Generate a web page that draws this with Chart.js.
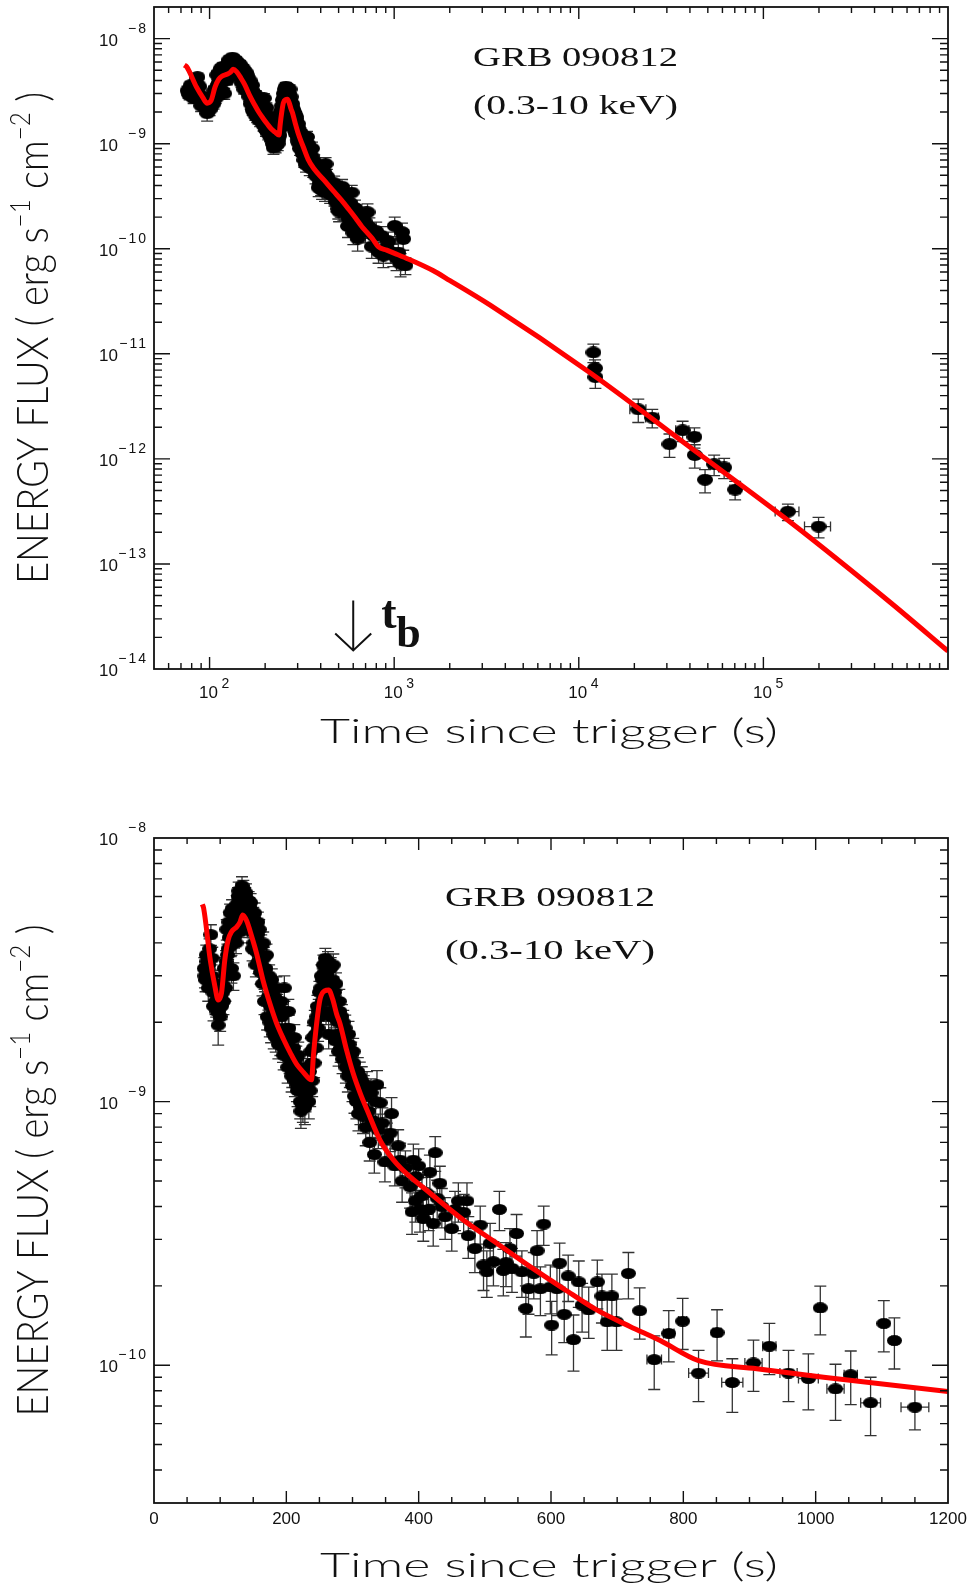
<!DOCTYPE html>
<html>
<head>
<meta charset="utf-8">
<script src="https://cdn.jsdelivr.net/npm/chart.js@4.4.0/dist/chart.umd.min.js"></script>
<style>
    html, body { margin: 0; padding: 0; background: #fff; }
    body { width: 977px; height: 1589px; position: relative; overflow: hidden; }
    .panel { position: absolute; left: 0; width: 977px; }
    #top-panel { top: 0; height: 790px; }
    #bottom-panel { top: 790px; height: 799px; }
</style>
</head>
<body>
<div class="panel" id="top-panel"><canvas id="top-chart"></canvas></div>
<div class="panel" id="bottom-panel"><canvas id="bottom-chart"></canvas></div>
<script>
// WT mode, dense part: time (s), flux (erg s^-1 cm^-2), fractional error
const wtTime = [
    76, 77, 78, 79, 80, 81, 82, 83, 84, 85, 86, 87, 88, 89, 90,
    91, 92, 93, 94, 95, 96, 97, 98, 99, 100, 101, 102, 103, 104, 105,
    106, 107, 108, 109, 110, 111, 112, 113, 114, 115, 116, 117, 118,
    119, 120, 121, 122, 123, 124, 125, 126, 127, 128, 129, 130, 131,
    132, 133, 134, 135, 136, 137, 138, 139, 140, 141, 142, 143, 144, 145,
    146, 147, 148, 149, 150, 151, 152, 153, 154, 155,
    156, 157, 158, 159, 160, 161, 162, 163, 164, 165,
    166, 167, 168, 169, 170, 171, 172, 173, 174, 175,
    176, 177, 178, 179, 180, 181, 182, 183, 184, 185,
    186, 187, 188, 189, 190, 191, 192, 193, 194, 195,
    196, 197, 198, 199, 200, 201, 202, 203, 204, 205,
    206, 207, 208, 209, 210, 211, 212, 213, 214, 215,
    216, 217, 218, 219, 220, 221, 222, 223, 224, 225,
    226, 227, 228, 229, 230, 231, 232, 233, 234,
    235, 236, 237, 238, 239, 240, 241, 242, 243, 244,
    245, 246, 247, 248, 249, 250, 251, 252, 253, 254,
    255, 256, 257, 258, 259, 260, 261, 262, 263, 264,
    265, 266, 267, 268, 269, 270, 271,
    272, 273, 274, 275, 276, 277, 278, 279, 280, 281,
    282, 283, 284, 285, 286, 287, 288, 289, 290, 291,
    292, 293, 294, 295, 296, 297, 298, 299, 300, 301,
    302, 303, 304, 305, 306, 307, 308, 309, 310, 311,
    312, 313, 314, 315, 316, 317, 318, 319, 320,
    322, 324, 326, 328, 330, 333, 335, 337, 339,
    342, 345, 349, 352, 357, 359, 364, 369, 372, 375, 380, 387, 390, 392, 395,
    396, 400, 402, 405, 407, 412, 415, 417, 422, 425, 428, 432, 435, 440, 450,
    455, 460, 468, 473, 475, 485, 493, 498, 503, 508, 513, 522, 528, 532, 538,
    541, 548, 556, 562, 566, 574, 579, 584, 589, 599, 601, 609, 613, 620, 626,
    634, 642, 647, 657, 670, 677, 685, 692, 699, 717, 734,
];
const wtFlux = [
    3.2e-9, 3.0e-9, 2.9e-9, 3.6e-9, 3.4e-9, 3.1e-9, 2.7e-9, 3.3e-9, 3.8e-9, 2.9e-9, 4.3e-9, 3.0e-9, 3.5e-9, 2.6e-9, 2.3e-9,
    2.8e-9, 2.6e-9, 2.4e-9, 2.35e-9, 2.2e-9, 2.6e-9, 1.95e-9, 2.2e-9, 2.3e-9, 2.1e-9, 2.5e-9, 2.3e-9, 2.8e-9, 2.6e-9, 2.4e-9,
    3.2e-9, 3.0e-9, 2.7e-9, 3.4e-9, 4.5e-9, 3.6e-9, 3.8e-9, 4.8e-9, 4.2e-9, 5.2e-9, 3.9e-9, 3.2e-9, 5.4e-9,
    4.6e-9, 3.0e-9, 4.2e-9, 5.0e-9, 4.7e-9, 4.0e-9, 5.6e-9, 4.9e-9, 6.0e-9, 6.3e-9, 5.3e-9, 4.4e-9, 5.6e-9,
    6.2e-9, 6.6e-9, 5.8e-9, 6.4e-9, 5.5e-9, 5.2e-9, 6.0e-9, 6.2e-9, 5.5e-9, 4.6e-9, 5.2e-9, 5.8e-9, 5.5e-9, 4.9e-9,
    5.7e-9, 5.3e-9, 4.4e-9, 3.8e-9, 5.0e-9, 4.0e-9, 5.2e-9, 4.7e-9, 3.3e-9, 3.7e-9,
    4.3e-9, 4.8e-9, 3.4e-9, 4.5e-9, 3.6e-9, 3.1e-9, 3.9e-9, 3.3e-9, 2.8e-9, 4.0e-9,
    3.5e-9, 2.4e-9, 2.9e-9, 3.2e-9, 3.6e-9, 2.1e-9, 2.8e-9, 2.5e-9, 3.0e-9, 2.0e-9,
    2.3e-9, 1.9e-9, 2.9e-9, 2.6e-9, 2.3e-9, 1.8e-9, 2.5e-9, 2.2e-9, 1.75e-9, 2.7e-9,
    2.3e-9, 1.9e-9, 1.65e-9, 2.4e-9, 2.2e-9, 1.7e-9, 2.4e-9, 2.1e-9, 1.85e-9, 1.6e-9,
    1.5e-9, 2.7e-9, 2.2e-9, 1.9e-9, 1.75e-9, 1.5e-9, 1.35e-9, 2.2e-9, 1.9e-9, 1.45e-9,
    1.6e-9, 1.75e-9, 1.25e-9, 1.3e-9, 1.5e-9, 1.6e-9, 1.75e-9, 1.2e-9, 1.3e-9, 1.45e-9,
    1.15e-9, 1.1e-9, 1.5e-9, 1.35e-9, 1.15e-9, 1.0e-9, 0.92e-9, 1.25e-9, 1.1e-9, 0.97e-9,
    1.3e-9, 1.15e-9, 0.95e-9, 1.05e-9, 1.15e-9, 1.25e-9, 1.35e-9, 1.1e-9, 1.0e-9,
    1.3e-9, 1.1e-9, 1.55e-9, 1.4e-9, 1.2e-9, 1.75e-9, 1.6e-9, 1.4e-9, 2.0e-9, 1.8e-9,
    1.6e-9, 2.1e-9, 2.3e-9, 1.9e-9, 2.2e-9, 2.6e-9, 2.1e-9, 2.7e-9, 3.0e-9, 2.4e-9,
    2.9e-9, 3.3e-9, 2.7e-9, 3.1e-9, 3.5e-9, 2.2e-9, 3.1e-9, 2.6e-9, 3.4e-9, 1.8e-9,
    2.8e-9, 2.4e-9, 3.2e-9, 2.1e-9, 2.5e-9, 2.9e-9, 3.3e-9,
    2.2e-9, 2.6e-9, 1.7e-9, 2.8e-9, 2.4e-9, 1.8e-9, 2.0e-9, 1.55e-9, 2.4e-9, 2.2e-9,
    1.6e-9, 1.8e-9, 2.1e-9, 1.45e-9, 2.0e-9, 1.55e-9, 1.7e-9, 1.9e-9, 1.35e-9, 1.5e-9,
    1.6e-9, 1.25e-9, 1.8e-9, 1.65e-9, 1.3e-9, 1.4e-9, 1.5e-9, 1.25e-9, 1.15e-9, 1.55e-9,
    1.4e-9, 1.05e-9, 1.2e-9, 1.3e-9, 1.0e-9, 1.15e-9, 1.3e-9, 0.9e-9, 1.1e-9, 1.25e-9,
    0.95e-9, 1.05e-9, 1.2e-9, 0.95e-9, 0.88e-9, 1.1e-9, 1.05e-9, 0.9e-9, 0.8e-9,
    1.15e-9, 0.92e-9, 0.7e-9, 1.08e-9, 0.85e-9, 0.63e-9, 1.0e-9, 1.16e-9, 0.78e-9,
    9.9e-10, 8.3e-10, 5.9e-10, 7.2e-10, 7.6e-10, 9.0e-10, 5.7e-10, 6.8e-10, 6.0e-10, 5.0e-10, 5.6e-10, 4.75e-10, 3.82e-10, 6.0e-10, 4.2e-10,
    5.2e-10, 5.7e-10, 3.9e-10, 4.4e-10, 3.6e-10, 4.5e-10, 3.9e-10, 5.4e-10, 3.45e-10, 6.4e-10, 4.3e-10, 4.9e-10, 4.0e-10, 3.66e-10, 3.3e-10,
    3.9e-10, 4.2e-10, 3.8e-10, 4.2e-10, 3.1e-10, 2.77e-10, 3.4e-10, 2.4e-10, 2.26e-10, 2.9e-10, 2.47e-10, 3.9e-10, 2.29e-10, 2.45e-10, 2.77e-10,
    2.33e-10, 3.16e-10, 2.26e-10, 1.64e-10, 1.95e-10, 2.23e-10, 2.72e-10, 1.95e-10, 3.43e-10, 1.98e-10, 1.42e-10, 1.95e-10, 2.44e-10, 1.56e-10, 2.18e-10,
    1.25e-10, 2.07e-10, 1.69e-10, 1.62e-10, 2.07e-10, 1.83e-10, 1.46e-10, 1.83e-10, 1.46e-10, 2.23e-10, 1.61e-10,
];
const wtErr = [
    0.10, 0.10, 0.10, 0.09, 0.09, 0.10, 0.11, 0.10, 0.09, 0.10, 0.09, 0.10, 0.10, 0.11, 0.12,
    0.10, 0.11, 0.11, 0.11, 0.12, 0.11, 0.16, 0.12, 0.11, 0.12, 0.10, 0.11, 0.10, 0.11, 0.11,
    0.10, 0.10, 0.11, 0.10, 0.09, 0.10, 0.09, 0.09, 0.09, 0.08, 0.09, 0.12, 0.08,
    0.09, 0.12, 0.09, 0.08, 0.09, 0.09, 0.08, 0.09, 0.08, 0.08, 0.08, 0.09, 0.08,
    0.08, 0.08, 0.08, 0.08, 0.08, 0.08, 0.08, 0.08, 0.08, 0.09, 0.08, 0.08, 0.08, 0.09,
    0.08, 0.08, 0.09, 0.10, 0.09, 0.09, 0.09, 0.09, 0.10, 0.10,
    0.09, 0.09, 0.10, 0.09, 0.10, 0.10, 0.10, 0.10, 0.10, 0.10,
    0.10, 0.11, 0.10, 0.10, 0.10, 0.11, 0.10, 0.11, 0.10, 0.12,
    0.11, 0.12, 0.10, 0.11, 0.11, 0.12, 0.11, 0.11, 0.12, 0.10,
    0.11, 0.12, 0.12, 0.11, 0.11, 0.12, 0.11, 0.11, 0.12, 0.12,
    0.12, 0.11, 0.11, 0.12, 0.12, 0.12, 0.13, 0.11, 0.12, 0.12,
    0.12, 0.12, 0.13, 0.13, 0.12, 0.12, 0.12, 0.13, 0.13, 0.12,
    0.13, 0.13, 0.12, 0.12, 0.13, 0.14, 0.14, 0.12, 0.13, 0.14,
    0.12, 0.13, 0.14, 0.13, 0.13, 0.12, 0.12, 0.13, 0.14,
    0.12, 0.13, 0.12, 0.12, 0.13, 0.11, 0.12, 0.12, 0.11, 0.11,
    0.12, 0.11, 0.10, 0.11, 0.11, 0.10, 0.11, 0.10, 0.10, 0.10,
    0.10, 0.09, 0.10, 0.10, 0.09, 0.11, 0.10, 0.10, 0.09, 0.12,
    0.10, 0.10, 0.10, 0.11, 0.10, 0.10, 0.10,
    0.11, 0.10, 0.12, 0.10, 0.10, 0.12, 0.11, 0.12, 0.11, 0.11,
    0.12, 0.11, 0.11, 0.12, 0.11, 0.12, 0.12, 0.12, 0.13, 0.12,
    0.12, 0.13, 0.12, 0.12, 0.13, 0.12, 0.12, 0.13, 0.13, 0.12,
    0.12, 0.14, 0.13, 0.13, 0.14, 0.13, 0.13, 0.14, 0.13, 0.13,
    0.14, 0.14, 0.13, 0.14, 0.14, 0.14, 0.14, 0.14, 0.15,
    0.13, 0.14, 0.15, 0.13, 0.14, 0.15, 0.14, 0.13, 0.15,
    0.14, 0.14, 0.16, 0.15, 0.15, 0.15, 0.16, 0.15, 0.16, 0.17, 0.16, 0.17, 0.18, 0.15, 0.17,
    0.16, 0.16, 0.18, 0.17, 0.18, 0.17, 0.17, 0.16, 0.18, 0.15, 0.17, 0.16, 0.17, 0.18, 0.18,
    0.17, 0.17, 0.17, 0.17, 0.18, 0.19, 0.18, 0.20, 0.20, 0.19, 0.19, 0.17, 0.20, 0.19, 0.19,
    0.19, 0.18, 0.20, 0.22, 0.20, 0.20, 0.19, 0.21, 0.17, 0.21, 0.23, 0.21, 0.19, 0.22, 0.20,
    0.24, 0.20, 0.21, 0.22, 0.21, 0.21, 0.22, 0.21, 0.22, 0.20, 0.22,
];

// WT mode, last bins with visible time bins
const wtLateTime = [756, 778, 799, 823, 851, 874, 906, 930, 959, 989, 1007, 1030, 1053, 1083, 1103, 1119, 1150];
const wtLateFlux = [1.05e-10, 1.32e-10, 1.47e-10, 9.33e-11, 1.33e-10, 8.6e-11, 1.02e-10, 1.18e-10, 9.33e-11, 8.9e-11, 1.65e-10, 8.13e-11, 9.2e-11, 7.2e-11, 1.44e-10, 1.24e-10, 6.93e-11];
const wtLateErr = [0.23, 0.22, 0.22, 0.22, 0.22, 0.23, 0.22, 0.22, 0.22, 0.24, 0.21, 0.24, 0.23, 0.25, 0.22, 0.22, 0.18];
const wtLateTimeErr = [11, 8, 6, 15, 6, 16, 13, 10, 13, 15, 4, 13, 10, 15, 4, 4, 21];

// PC mode
const pcTime = [12000, 12250, 12300, 21000, 25000, 31000, 36500, 42300, 42500, 48300, 54100, 61300, 70300, 135800, 199000];
const pcFlux = [1.03e-11, 7.3e-12, 6.0e-12, 2.96e-12, 2.47e-12, 1.38e-12, 1.87e-12, 1.62e-12, 1.09e-12, 6.33e-13, 8.9e-13, 8.3e-13, 5.1e-13, 3.15e-13, 2.27e-13];
const pcErr = [0.20, 0.20, 0.22, 0.25, 0.20, 0.25, 0.22, 0.22, 0.25, 0.25, 0.22, 0.22, 0.20, 0.18, 0.22];
const pcTimeErr = [300, 300, 300, 2100, 2000, 1500, 3000, 2500, 2000, 1500, 3500, 4000, 4500, 20000, 32000];

// model curve
const fitTime = [
    73, 75, 85, 92, 97, 102, 107, 112, 117, 125, 130, 134, 140, 148, 155,
    165, 175, 185, 196, 206, 216, 226, 238, 241, 246, 251, 258, 264, 270, 276,
    281, 291, 301, 312, 322, 342, 367, 417, 468, 518, 569, 619, 669, 720, 765,
    823, 911, 1012, 1200, 1622, 1995, 3296, 11510, 40090, 139600, 487500, 1000000,
];
const fitFlux = [
    5.6e-9, 5.42e-9, 3.45e-9, 2.74e-9, 2.43e-9, 2.58e-9, 3.45e-9, 4.1e-9, 4.4e-9, 4.6e-9, 4.8e-9, 5.1e-9, 4.85e-9, 4.2e-9, 3.65e-9,
    2.87e-9, 2.36e-9, 1.99e-9, 1.72e-9, 1.53e-9, 1.38e-9, 1.29e-9, 1.21e-9, 1.5e-9, 2.0e-9, 2.45e-9, 2.63e-9, 2.65e-9, 2.45e-9, 2.15e-9,
    1.98e-9, 1.57e-9, 1.28e-9, 1.07e-9, 9.3e-10, 7.1e-10, 5.8e-10, 4.5e-10, 3.55e-10, 2.9e-10, 2.36e-10, 1.95e-10, 1.62e-10, 1.4e-10, 1.24e-10,
    1.04e-10, 9.7e-11, 9.0e-11, 7.94e-11, 6.2e-11, 5.0e-11, 2.92e-11, 6.6e-12, 1.29e-12, 2.51e-13, 4.3e-14, 1.48e-14,
];

// axes
const topXTickExponents = [2, 3, 4, 5];
const topYTickExponents = [-8, -9, -10, -11, -12, -13, -14];
const bottomXTickValues = [0, 200, 400, 600, 800, 1000, 1200];
const bottomYTickExponents = [-8, -9, -10];

const grbName = "GRB 090812";
const energyBand = "(0.3-10 keV)";
const breakTime = 600;
const breakArrowFlux = 1.5e-14;

const INK = "#111";
const LABEL_FONT = '17px "Liberation Sans", Arial, sans-serif';
const SUP_FONT = '14px "Liberation Sans", Arial, sans-serif';
const TITLE_FAMILY = 'Lato, "DejaVu Sans", sans-serif';

function makeDot(w, h) {
    const c = document.createElement("canvas");
    c.width = w;
    c.height = h;
    const g = c.getContext("2d");
    g.fillStyle = "#000";
    g.beginPath();
    g.ellipse(w / 2, h / 2, w / 2, h / 2, 0, 0, Math.PI * 2);
    g.fill();
    return c;
}

const topDot = makeDot(16, 12);
const bottomDot = makeDot(15, 11);

function toPoints(times, fluxes) {
    return times.map((t, i) => ({ x: t, y: fluxes[i] }));
}

function fitDataset() {
    return {
        label: "model",
        data: toPoints(fitTime, fitFlux),
        showLine: true,
        borderColor: "#ff0000",
        borderWidth: 5,
        borderJoinStyle: "round",
        pointRadius: 0,
        cubicInterpolationMode: "monotone",
        clip: 0,
    };
}

function pointDataset(label, times, fluxes, fluxErr, timeErr, dot) {
    return {
        label,
        data: toPoints(times, fluxes),
        showLine: false,
        pointStyle: dot,
        pointRadius: 6,
        errors: { y: fluxErr, x: timeErr },
    };
}

const errorBarPlugin = {
    id: "errorBars",
    beforeDatasetsDraw(chart) {
        const { ctx, chartArea: a, scales: { x, y } } = chart;
        ctx.save();
        ctx.beginPath();
        ctx.rect(a.left, a.top, a.right - a.left, a.bottom - a.top);
        ctx.clip();
        ctx.strokeStyle = "#333";
        ctx.lineWidth = 1.3;
        ctx.beginPath();
        chart.data.datasets.forEach((ds) => {
            if (!ds.errors) return;
            ds.data.forEach((p, i) => {
                const px = x.getPixelForValue(p.x);
                const py = y.getPixelForValue(p.y);
                const e = ds.errors.y[i];
                const top = y.getPixelForValue(p.y * (1 + e));
                const bot = y.getPixelForValue(p.y * (1 - e));
                ctx.moveTo(px, top);
                ctx.lineTo(px, bot);
                ctx.moveTo(px - 6, top);
                ctx.lineTo(px + 6, top);
                ctx.moveTo(px - 6, bot);
                ctx.lineTo(px + 6, bot);
                const dx = ds.errors.x ? ds.errors.x[i] : 0;
                if (dx > 0) {
                    const l = x.getPixelForValue(p.x - dx);
                    const r = x.getPixelForValue(p.x + dx);
                    ctx.moveTo(l, py);
                    ctx.lineTo(r, py);
                    ctx.moveTo(l, py - 5);
                    ctx.lineTo(l, py + 5);
                    ctx.moveTo(r, py - 5);
                    ctx.lineTo(r, py + 5);
                }
            });
        });
        ctx.stroke();
        ctx.restore();
    },
};

function logTicks(min, max) {
    const out = [];
    const lo = Math.floor(Math.log10(min));
    const hi = Math.ceil(Math.log10(max));
    for (let k = lo; k <= hi; k++) {
        for (let m = 1; m <= 9; m++) {
            const v = m * Math.pow(10, k);
            if (v > min * 1.0001 && v < max * 0.9999) out.push({ v, major: m === 1 });
        }
    }
    return out;
}

function linearTicks(min, max, step, majorStep) {
    const out = [];
    for (let v = min + step; v < max; v += step) {
        out.push({ v, major: v % majorStep === 0 });
    }
    return out;
}

function drawFrame(chart, xTicks, yTicks) {
    const { ctx, chartArea: a, scales: { x, y } } = chart;
    ctx.save();
    ctx.strokeStyle = INK;
    ctx.lineWidth = 1.4;
    ctx.beginPath();
    xTicks.forEach(({ v, major }) => {
        const px = x.getPixelForValue(v);
        const len = major ? 12 : 6;
        ctx.moveTo(px, a.bottom);
        ctx.lineTo(px, a.bottom - len);
        ctx.moveTo(px, a.top);
        ctx.lineTo(px, a.top + len);
    });
    yTicks.forEach(({ v, major }) => {
        const py = y.getPixelForValue(v);
        const len = major ? 16 : 8;
        ctx.moveTo(a.left, py);
        ctx.lineTo(a.left + len, py);
        ctx.moveTo(a.right, py);
        ctx.lineTo(a.right - len, py);
    });
    ctx.stroke();
    ctx.lineWidth = 1.8;
    ctx.strokeRect(a.left, a.top, a.right - a.left, a.bottom - a.top);
    ctx.restore();
}

function supText(exp) {
    return (exp < 0 ? "\u2212" : "") + Math.abs(exp);
}

function drawYPowerLabels(chart, exps) {
    const { ctx, chartArea: a, scales: { y } } = chart;
    ctx.save();
    ctx.fillStyle = INK;
    ctx.textAlign = "right";
    exps.forEach((e) => {
        const py = y.getPixelForValue(Math.pow(10, e));
        ctx.font = LABEL_FONT;
        ctx.fillText("10", a.left - 36, py + 7);
        ctx.font = SUP_FONT;
        ctx.letterSpacing = "2px";
        ctx.fillText(supText(e), a.left - 6, py - 6);
        ctx.letterSpacing = "0px";
    });
    ctx.restore();
}

function drawRichText(ctx, parts, opt) {
    ctx.save();
    const widths = parts.map((p) => {
        ctx.font = p.sup ? opt.supFont : opt.font;
        return ctx.measureText(p.text).width;
    });
    const total = widths.reduce((s, w) => s + w, 0);
    ctx.translate(opt.x, opt.y);
    ctx.rotate(opt.angle || 0);
    ctx.scale(opt.length / total, opt.across || 1);
    ctx.fillStyle = INK;
    ctx.textAlign = "left";
    ctx.textBaseline = "alphabetic";
    let cursor = -total / 2;
    parts.forEach((p, i) => {
        ctx.font = p.sup ? opt.supFont : opt.font;
        ctx.fillText(p.text, cursor, p.sup ? -opt.supRise : 0);
        cursor += widths[i];
    });
    ctx.restore();
}

function drawAxisTitles(chart) {
    const { ctx, chartArea: a } = chart;
    drawRichText(ctx, [{ text: "Time since trigger (s)" }], {
        x: (a.left + a.right) / 2 - 2,
        y: a.bottom + 74,
        length: 458,
        font: `300 33px ${TITLE_FAMILY}`,
    });
    drawRichText(
        ctx,
        [
            { text: "ENERGY FLUX ( erg s" },
            { text: "\u22121", sup: true },
            { text: " cm" },
            { text: "\u22122", sup: true },
            { text: " )" },
        ],
        {
            x: 48,
            y: (a.top + a.bottom) / 2,
            angle: -Math.PI / 2,
            length: 492,
            across: 1.3,
            font: `300 33px ${TITLE_FAMILY}`,
            supFont: `300 21px ${TITLE_FAMILY}`,
            supRise: 14,
        }
    );
}

function drawGrbLabel(chart, cx, base1, base2, width) {
    const { ctx } = chart;
    const font = '28px "Liberation Serif", "Times New Roman", serif';
    drawRichText(ctx, [{ text: grbName }], { x: cx, y: base1, length: width, font });
    drawRichText(ctx, [{ text: energyBand }], { x: cx, y: base2, length: width, font });
}

const topAxesPlugin = {
    id: "topAxes",
    afterDraw(chart) {
        const { ctx, chartArea: a, scales: { x, y } } = chart;
        drawFrame(chart, logTicks(x.min, x.max), logTicks(y.min, y.max));
        drawYPowerLabels(chart, topYTickExponents);

        ctx.save();
        ctx.fillStyle = INK;
        topXTickExponents.forEach((e) => {
            const px = x.getPixelForValue(Math.pow(10, e));
            ctx.font = LABEL_FONT;
            ctx.textAlign = "center";
            ctx.fillText("10", px - 1, a.bottom + 29);
            ctx.font = SUP_FONT;
            ctx.textAlign = "left";
            ctx.fillText(supText(e), px + 12, a.bottom + 19);
        });
        ctx.restore();

        drawAxisTitles(chart);
        drawGrbLabel(chart, 575.5, a.top + 59, a.top + 107, 205);

        // break time marker
        const tipX = x.getPixelForValue(breakTime);
        const tipY = y.getPixelForValue(breakArrowFlux);
        ctx.save();
        ctx.strokeStyle = INK;
        ctx.lineWidth = 2;
        ctx.beginPath();
        ctx.moveTo(tipX, tipY - 50);
        ctx.lineTo(tipX, tipY);
        ctx.moveTo(tipX - 18, tipY - 17);
        ctx.lineTo(tipX, tipY);
        ctx.lineTo(tipX + 18, tipY - 17);
        ctx.stroke();
        ctx.fillStyle = INK;
        ctx.font = 'bold 46px "Liberation Serif", "Times New Roman", serif';
        ctx.fillText("t", tipX + 28, tipY - 22);
        ctx.font = 'bold 44px "Liberation Serif", "Times New Roman", serif';
        ctx.fillText("b", tipX + 43, tipY - 3);
        ctx.restore();
    },
};

const bottomAxesPlugin = {
    id: "bottomAxes",
    afterDraw(chart) {
        const { ctx, chartArea: a, scales: { x, y } } = chart;
        drawFrame(chart, linearTicks(x.min, x.max, 50, 200), logTicks(y.min, y.max));
        drawYPowerLabels(chart, bottomYTickExponents);

        ctx.save();
        ctx.fillStyle = INK;
        ctx.font = LABEL_FONT;
        ctx.textAlign = "center";
        bottomXTickValues.forEach((v) => {
            ctx.fillText(String(v), x.getPixelForValue(v), a.bottom + 21);
        });
        ctx.restore();

        drawAxisTitles(chart);
        drawGrbLabel(chart, 550, a.top + 68, a.top + 121, 210);
    },
};

function baseOptions(padding, scales) {
    return {
        responsive: true,
        maintainAspectRatio: false,
        animation: false,
        devicePixelRatio: 1,
        events: [],
        layout: { padding },
        plugins: { legend: { display: false }, tooltip: { enabled: false } },
        scales,
    };
}

new Chart(document.getElementById("top-chart").getContext("2d"), {
    type: "scatter",
    data: {
        datasets: [
            fitDataset(),
            pointDataset("wt", wtTime, wtFlux, wtErr, null, topDot),
            pointDataset("wt late", wtLateTime, wtLateFlux, wtLateErr, wtLateTimeErr, topDot),
            pointDataset("pc", pcTime, pcFlux, pcErr, pcTimeErr, topDot),
        ],
    },
    options: baseOptions(
        { left: 154, top: 4, right: 29, bottom: 121 },
        {
            x: { type: "logarithmic", min: 50, max: 1e6, display: false },
            y: { type: "logarithmic", min: 1e-14, max: 2e-8, display: false },
        }
    ),
    plugins: [errorBarPlugin, topAxesPlugin],
});

new Chart(document.getElementById("bottom-chart").getContext("2d"), {
    type: "scatter",
    data: {
        datasets: [
            fitDataset(),
            pointDataset("wt", wtTime, wtFlux, wtErr, null, bottomDot),
            pointDataset("wt late", wtLateTime, wtLateFlux, wtLateErr, wtLateTimeErr, bottomDot),
        ],
    },
    options: baseOptions(
        { left: 154, top: 48, right: 29, bottom: 86 },
        {
            x: { type: "linear", min: 0, max: 1200, display: false },
            y: { type: "logarithmic", min: 3e-11, max: 1e-8, display: false },
        }
    ),
    plugins: [errorBarPlugin, bottomAxesPlugin],
});
</script>
</body>
</html>
